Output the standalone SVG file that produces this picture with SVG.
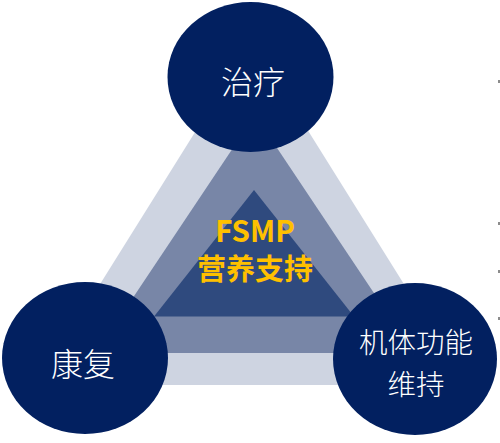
<svg xmlns="http://www.w3.org/2000/svg" width="500" height="443" viewBox="0 0 500 443">
<style>
.circ{fill:#022060}
.lbl{fill:#ffffff;font-family:"Noto Sans CJK SC","Noto Sans",sans-serif;font-weight:300;text-anchor:middle}
.ctr{fill:#ffc000;font-family:"Noto Sans CJK SC","Noto Sans",sans-serif;font-weight:700;text-anchor:middle}
.tick{fill:#8c8c8c}
</style>
<rect width="500" height="443" fill="#ffffff"/>
<g id="triangles">
<polygon points="252,41 37,385 467,385" fill="#ced4e1"/>
<polygon points="255,115 96,353 414,353" fill="#7886a7"/>
<polygon points="254,190 154,316.5 354,316.5" fill="#2f4a7e"/>
</g>
<g id="connectors"></g>
<g id="node-center">
<text class="ctr" x="255" y="242" font-size="29.5">FSMP</text>
<text class="ctr" x="255" y="280" font-size="29">营养支持</text>
</g>
<g id="node-top">
<ellipse class="circ" cx="250.5" cy="77" rx="83" ry="75"/>
<text class="lbl" x="253" y="94" font-size="32">治疗</text>
</g>
<g id="node-left">
<ellipse class="circ" cx="85" cy="358" rx="83" ry="76"/>
<text class="lbl" x="83" y="376" font-size="32">康复</text>
</g>
<g id="node-right">
<ellipse class="circ" cx="415" cy="359" rx="82" ry="76"/>
<text class="lbl" font-size="28.5"><tspan x="416" y="353">机体功能</tspan><tspan x="416" y="394.5">维持</tspan></text>
</g>
<g id="edge-marks">
<rect class="tick" x="498" y="80" width="2" height="3"/>
<rect class="tick" x="498" y="222" width="2" height="3"/>
<rect class="tick" x="498" y="270" width="2" height="3"/>
<rect class="tick" x="498" y="317" width="2" height="3"/>
</g>
</svg>
